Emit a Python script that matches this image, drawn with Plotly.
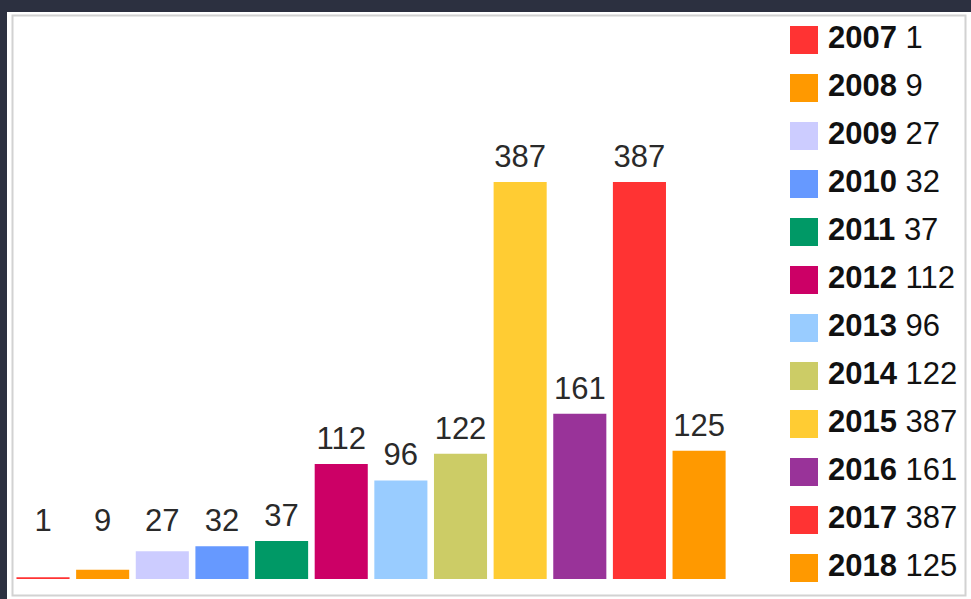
import numpy as np
import plotly.graph_objects as go

years = ["2007", "2008", "2009", "2010", "2011", "2012",
         "2013", "2014", "2015", "2016", "2017", "2018"]
values = [1, 9, 27, 32, 37, 112, 96, 122, 387, 161, 387, 125]
colors = ["#ff3333", "#ff9900", "#ccccff", "#6699ff", "#009966", "#cc0066",
          "#99ccff", "#cccc66", "#ffcc33", "#993399", "#ff3333", "#ff9900"]

W, H = 971, 599
FONT = "Liberation Sans, Arial, sans-serif"

base_py, top_py = 579, 182
scale = (base_py - top_py) / 387.0   # px per unit
ymax = 420
plot_top = base_py - ymax * scale

fig = go.Figure()

# main bars
fig.add_trace(go.Bar(
    x=years, y=values, marker=dict(color=colors, line=dict(width=0)),
    xaxis="x", yaxis="y", hoverinfo="x+y", showlegend=False,
))

# value labels above bars (with a minimum height for small bars)
label_gap = 23 / scale
label_y = np.maximum(np.array(values), 32) + label_gap
fig.add_trace(go.Scatter(
    x=years, y=label_y, mode="text", text=[str(v) for v in values],
    textposition="middle center",
    textfont=dict(family=FONT, size=31, color="#2a2a2a"),
    xaxis="x", yaxis="y", hoverinfo="skip", showlegend=False, cliponaxis=False,
))

# custom legend: squares + text
idx = list(range(len(years)))
fig.add_trace(go.Scatter(
    x=[24] * len(years), y=idx, mode="markers",
    marker=dict(symbol="square", size=28, color=colors, line=dict(width=0)),
    xaxis="x2", yaxis="y2", hoverinfo="skip", showlegend=False, cliponaxis=False,
))
fig.add_trace(go.Scatter(
    x=[48] * len(years), y=idx, mode="text",
    text=[f"<b>{y}</b> {v}" for y, v in zip(years, values)],
    textposition="middle right",
    textfont=dict(family=FONT, size=31, color="#111111"),
    xaxis="x2", yaxis="y2", hoverinfo="skip", showlegend=False, cliponaxis=False,
))


def px_x(p):
    return p / W


def px_y(p):
    return 1 - p / H


hidden = dict(visible=False, showgrid=False, zeroline=False, fixedrange=True)

fig.update_layout(
    width=W, height=H,
    margin=dict(l=0, r=0, t=0, b=0),
    paper_bgcolor="#2c3040",
    plot_bgcolor="rgba(0,0,0,0)",
    bargap=0.11,
    xaxis=dict(domain=[px_x(13.2), px_x(728.9)], range=[-0.5, len(years) - 0.5],
               type="category", **hidden),
    yaxis=dict(domain=[px_y(base_py), px_y(plot_top)], range=[0, ymax], **hidden),
    xaxis2=dict(domain=[px_x(780), 1], range=[0, 191], anchor="y2", **hidden),
    yaxis2=dict(domain=[0, 1], range=[(H - 40) / 48.0, -40 / 48.0], anchor="x2", **hidden),
    shapes=[
        dict(type="rect", xref="paper", yref="paper", layer="below",
             x0=px_x(7), x1=px_x(971), y0=px_y(599), y1=px_y(12),
             fillcolor="white", line=dict(width=0)),
        dict(type="rect", xref="paper", yref="paper", layer="below",
             x0=px_x(12.5), x1=px_x(965.5), y0=px_y(595.5), y1=px_y(15.5),
             fillcolor="rgba(0,0,0,0)", line=dict(color="#d2d2d2", width=2)),
    ],
)

fig.write_html(
    "out.html",
    config={"displayModeBar": False},
    post_script="document.body.style.margin='0';document.body.style.background='#2c3040';",
)
